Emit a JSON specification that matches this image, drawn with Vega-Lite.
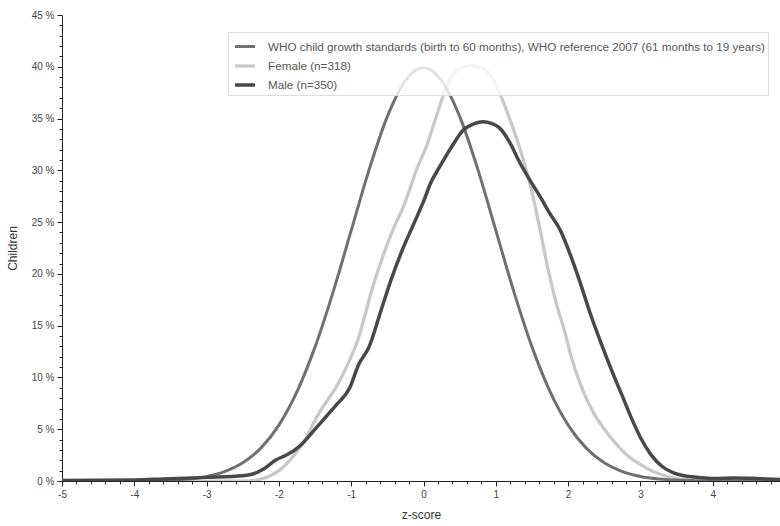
{
  "$schema": "https://vega.github.io/schema/vega-lite/v6.json",
  "width": 718,
  "height": 466,
  "autosize": "none",
  "padding": {"left": 62, "top": 15, "right": 0, "bottom": 45},
  "background": "white",
  "config": {
    "view": {"stroke": null},
    "font": "Liberation Sans",
    "legend": {
      "orient": "none",
      "legendX": 166,
      "legendY": 17,
      "symbolType": "stroke",
      "symbolSize": 400,
      "symbolOffset": 2,
      "labelFontSize": 11.7,
      "labelColor": "#555",
      "labelFont": "Liberation Sans",
      "fillColor": "rgba(255,255,255,0.8)",
      "strokeColor": "#dddddd",
      "padding": 3,
      "rowPadding": -3,
      "labelOffset": 11,
      "labelLimit": 0,
      "zindex": 1
    }
  },
  "data": {"values": [
      {"series": "Female", "z": -5, "pct": 0},
      {"series": "Female", "z": -3, "pct": 0},
      {"series": "Female", "z": -2.5, "pct": 0},
      {"series": "Female", "z": -2.3, "pct": 0.1},
      {"series": "Female", "z": -2.15, "pct": 0.4},
      {"series": "Female", "z": -2.0, "pct": 1.0},
      {"series": "Female", "z": -1.85, "pct": 2.0},
      {"series": "Female", "z": -1.7, "pct": 3.3},
      {"series": "Female", "z": -1.45, "pct": 6.5},
      {"series": "Female", "z": -1.15, "pct": 9.8},
      {"series": "Female", "z": -0.9, "pct": 13.8},
      {"series": "Female", "z": -0.7, "pct": 18.8},
      {"series": "Female", "z": -0.45, "pct": 23.8},
      {"series": "Female", "z": -0.25, "pct": 27.0},
      {"series": "Female", "z": -0.1, "pct": 30.0},
      {"series": "Female", "z": 0.05, "pct": 32.5},
      {"series": "Female", "z": 0.2, "pct": 35.7},
      {"series": "Female", "z": 0.35, "pct": 38.6},
      {"series": "Female", "z": 0.5, "pct": 39.8},
      {"series": "Female", "z": 0.65, "pct": 40.1},
      {"series": "Female", "z": 0.8, "pct": 39.9},
      {"series": "Female", "z": 0.9, "pct": 39.4},
      {"series": "Female", "z": 1.05, "pct": 37.5},
      {"series": "Female", "z": 1.2, "pct": 34.8},
      {"series": "Female", "z": 1.3, "pct": 32.8},
      {"series": "Female", "z": 1.5, "pct": 27.9},
      {"series": "Female", "z": 1.62, "pct": 24.0},
      {"series": "Female", "z": 1.72, "pct": 20.5},
      {"series": "Female", "z": 1.85, "pct": 16.8},
      {"series": "Female", "z": 1.95, "pct": 14.5},
      {"series": "Female", "z": 2.05, "pct": 11.8},
      {"series": "Female", "z": 2.2, "pct": 8.8},
      {"series": "Female", "z": 2.35, "pct": 6.6},
      {"series": "Female", "z": 2.5, "pct": 5.0},
      {"series": "Female", "z": 2.7, "pct": 3.3},
      {"series": "Female", "z": 2.85, "pct": 2.3},
      {"series": "Female", "z": 3.0, "pct": 1.6},
      {"series": "Female", "z": 3.15, "pct": 1.0},
      {"series": "Female", "z": 3.3, "pct": 0.6},
      {"series": "Female", "z": 3.45, "pct": 0.3},
      {"series": "Female", "z": 3.6, "pct": 0.1},
      {"series": "Female", "z": 3.8, "pct": 0},
      {"series": "Female", "z": 4.93, "pct": 0},

      {"series": "WHO", "z": -5, "pct": 0.0001},
      {"series": "WHO", "z": -4.75, "pct": 0.0005},
      {"series": "WHO", "z": -4.5, "pct": 0.0016},
      {"series": "WHO", "z": -4.25, "pct": 0.0047},
      {"series": "WHO", "z": -4, "pct": 0.0134},
      {"series": "WHO", "z": -3.75, "pct": 0.0353},
      {"series": "WHO", "z": -3.5, "pct": 0.0873},
      {"series": "WHO", "z": -3.25, "pct": 0.2029},
      {"series": "WHO", "z": -3, "pct": 0.4432},
      {"series": "WHO", "z": -2.75, "pct": 0.9094},
      {"series": "WHO", "z": -2.5, "pct": 1.7528},
      {"series": "WHO", "z": -2.25, "pct": 3.174},
      {"series": "WHO", "z": -2, "pct": 5.3991},
      {"series": "WHO", "z": -1.75, "pct": 8.6277},
      {"series": "WHO", "z": -1.5, "pct": 12.9518},
      {"series": "WHO", "z": -1.25, "pct": 18.2649},
      {"series": "WHO", "z": -1, "pct": 24.1971},
      {"series": "WHO", "z": -0.75, "pct": 30.1137},
      {"series": "WHO", "z": -0.5, "pct": 35.2065},
      {"series": "WHO", "z": -0.25, "pct": 38.6668},
      {"series": "WHO", "z": 0, "pct": 39.8942},
      {"series": "WHO", "z": 0.25, "pct": 38.6668},
      {"series": "WHO", "z": 0.5, "pct": 35.2065},
      {"series": "WHO", "z": 0.75, "pct": 30.1137},
      {"series": "WHO", "z": 1, "pct": 24.1971},
      {"series": "WHO", "z": 1.25, "pct": 18.2649},
      {"series": "WHO", "z": 1.5, "pct": 12.9518},
      {"series": "WHO", "z": 1.75, "pct": 8.6277},
      {"series": "WHO", "z": 2, "pct": 5.3991},
      {"series": "WHO", "z": 2.25, "pct": 3.174},
      {"series": "WHO", "z": 2.5, "pct": 1.7528},
      {"series": "WHO", "z": 2.75, "pct": 0.9094},
      {"series": "WHO", "z": 3, "pct": 0.4432},
      {"series": "WHO", "z": 3.25, "pct": 0.2029},
      {"series": "WHO", "z": 3.5, "pct": 0.0873},
      {"series": "WHO", "z": 3.75, "pct": 0.0353},
      {"series": "WHO", "z": 4, "pct": 0.0134},
      {"series": "WHO", "z": 4.25, "pct": 0.0047},
      {"series": "WHO", "z": 4.5, "pct": 0.0016},
      {"series": "WHO", "z": 4.75, "pct": 0.0005},
      {"series": "WHO", "z": 5, "pct": 0.0001},

      {"series": "Male", "z": -5, "pct": 0.05},
      {"series": "Male", "z": -4, "pct": 0.1},
      {"series": "Male", "z": -3.6, "pct": 0.2},
      {"series": "Male", "z": -3.0, "pct": 0.35},
      {"series": "Male", "z": -2.5, "pct": 0.5},
      {"series": "Male", "z": -2.35, "pct": 0.7},
      {"series": "Male", "z": -2.2, "pct": 1.2},
      {"series": "Male", "z": -2.05, "pct": 2.0},
      {"series": "Male", "z": -1.9, "pct": 2.5},
      {"series": "Male", "z": -1.8, "pct": 2.9},
      {"series": "Male", "z": -1.65, "pct": 3.8},
      {"series": "Male", "z": -1.5, "pct": 5.0},
      {"series": "Male", "z": -1.35, "pct": 6.2},
      {"series": "Male", "z": -1.2, "pct": 7.4},
      {"series": "Male", "z": -1.02, "pct": 9.0},
      {"series": "Male", "z": -0.9, "pct": 11.2},
      {"series": "Male", "z": -0.75, "pct": 13.0},
      {"series": "Male", "z": -0.6, "pct": 16.2},
      {"series": "Male", "z": -0.45, "pct": 19.4},
      {"series": "Male", "z": -0.3, "pct": 22.2},
      {"series": "Male", "z": -0.15, "pct": 24.6},
      {"series": "Male", "z": 0, "pct": 27.0},
      {"series": "Male", "z": 0.1, "pct": 28.8},
      {"series": "Male", "z": 0.22, "pct": 30.3},
      {"series": "Male", "z": 0.4, "pct": 32.4},
      {"series": "Male", "z": 0.55, "pct": 33.9},
      {"series": "Male", "z": 0.7, "pct": 34.5},
      {"series": "Male", "z": 0.82, "pct": 34.7},
      {"series": "Male", "z": 0.95, "pct": 34.5},
      {"series": "Male", "z": 1.05, "pct": 34.1},
      {"series": "Male", "z": 1.2, "pct": 32.6},
      {"series": "Male", "z": 1.32, "pct": 30.9},
      {"series": "Male", "z": 1.45, "pct": 29.3},
      {"series": "Male", "z": 1.6, "pct": 27.6},
      {"series": "Male", "z": 1.75, "pct": 25.8},
      {"series": "Male", "z": 1.9, "pct": 24.1},
      {"series": "Male", "z": 2.0, "pct": 22.4},
      {"series": "Male", "z": 2.15, "pct": 19.5},
      {"series": "Male", "z": 2.3, "pct": 16.3},
      {"series": "Male", "z": 2.45, "pct": 13.4},
      {"series": "Male", "z": 2.6, "pct": 10.7},
      {"series": "Male", "z": 2.75, "pct": 8.2},
      {"series": "Male", "z": 2.88, "pct": 6.0},
      {"series": "Male", "z": 3.0, "pct": 4.2},
      {"series": "Male", "z": 3.15, "pct": 2.5},
      {"series": "Male", "z": 3.3, "pct": 1.4},
      {"series": "Male", "z": 3.45, "pct": 0.8},
      {"series": "Male", "z": 3.6, "pct": 0.5},
      {"series": "Male", "z": 3.8, "pct": 0.35},
      {"series": "Male", "z": 4.0, "pct": 0.25},
      {"series": "Male", "z": 4.3, "pct": 0.3},
      {"series": "Male", "z": 4.6, "pct": 0.25},
      {"series": "Male", "z": 4.93, "pct": 0.15}
  ]},
  "mark": {"type": "line", "clip": true, "interpolate": "monotone"},
  "encoding": {
    "x": {
      "field": "z",
      "type": "quantitative",
      "scale": {"domain": [-5, 4.93], "nice": false, "zero": false},
      "axis": {
        "title": "z-score",
        "values": [-5,-4.8,-4.6,-4.4,-4.2,-4,-3.8,-3.6,-3.4,-3.2,-3,-2.8,-2.6,-2.4,-2.2,-2,-1.8,-1.6,-1.4,-1.2,-1,-0.8,-0.6,-0.4,-0.2,0,0.2,0.4,0.6,0.8,1,1.2,1.4,1.6,1.8,2,2.2,2.4,2.6,2.8,3,3.2,3.4,3.6,3.8,4,4.2,4.4,4.6,4.8],
        "labelExpr": "datum.value % 1 === 0 ? '' + datum.value : ''",
        "labelOverlap": false,
        "labelFlush": false,
        "tickSize": {"condition": {"test": "datum.value % 1 === 0", "value": 5}, "value": 3},
        "grid": false,
        "domainColor": "#222",
        "tickColor": "#222",
        "labelColor": "#444",
        "labelFontSize": 10,
        "labelFont": "Liberation Sans",
        "labelPadding": 3,
        "titleFont": "Liberation Sans",
        "titleFontSize": 12,
        "titleFontWeight": "normal",
        "titleColor": "#333",
        "titlePadding": 10
      }
    },
    "y": {
      "field": "pct",
      "type": "quantitative",
      "scale": {"domain": [0, 45], "nice": false},
      "axis": {
        "title": "Children",
        "values": [0,1,2,3,4,5,6,7,8,9,10,11,12,13,14,15,16,17,18,19,20,21,22,23,24,25,26,27,28,29,30,31,32,33,34,35,36,37,38,39,40,41,42,43,44,45],
        "labelExpr": "datum.value % 5 === 0 ? datum.value + ' %' : ''",
        "labelOverlap": false,
        "labelFlush": false,
        "tickSize": {"condition": {"test": "datum.value % 5 === 0", "value": 5}, "value": 3},
        "grid": false,
        "domainColor": "#222",
        "tickColor": "#222",
        "labelColor": "#444",
        "labelFontSize": 10,
        "labelFont": "Liberation Sans",
        "labelPadding": 3,
        "titleFont": "Liberation Sans",
        "titleFontSize": 12,
        "titleFontWeight": "normal",
        "titleColor": "#333",
        "titlePadding": 12
      }
    },
    "color": {
      "field": "series",
      "type": "nominal",
      "scale": {
        "domain": ["WHO", "Female", "Male"],
        "range": ["#707070", "#c8c8c8", "#484848"]
      },
      "legend": {
        "title": null,
        "labelExpr": "datum.value === 'WHO' ? 'WHO child growth standards (birth to 60 months), WHO reference 2007 (61 months to 19 years)' : datum.value === 'Female' ? 'Female (n=318)' : 'Male (n=350)'"
      }
    },
    "strokeWidth": {
      "field": "series",
      "type": "nominal",
      "scale": {
        "domain": ["WHO", "Female", "Male"],
        "range": [3, 3.5, 7]
      },
      "legend": {
        "title": null,
        "labelExpr": "datum.value === 'WHO' ? 'WHO child growth standards (birth to 60 months), WHO reference 2007 (61 months to 19 years)' : datum.value === 'Female' ? 'Female (n=318)' : 'Male (n=350)'"
      }
    }
  }
}
